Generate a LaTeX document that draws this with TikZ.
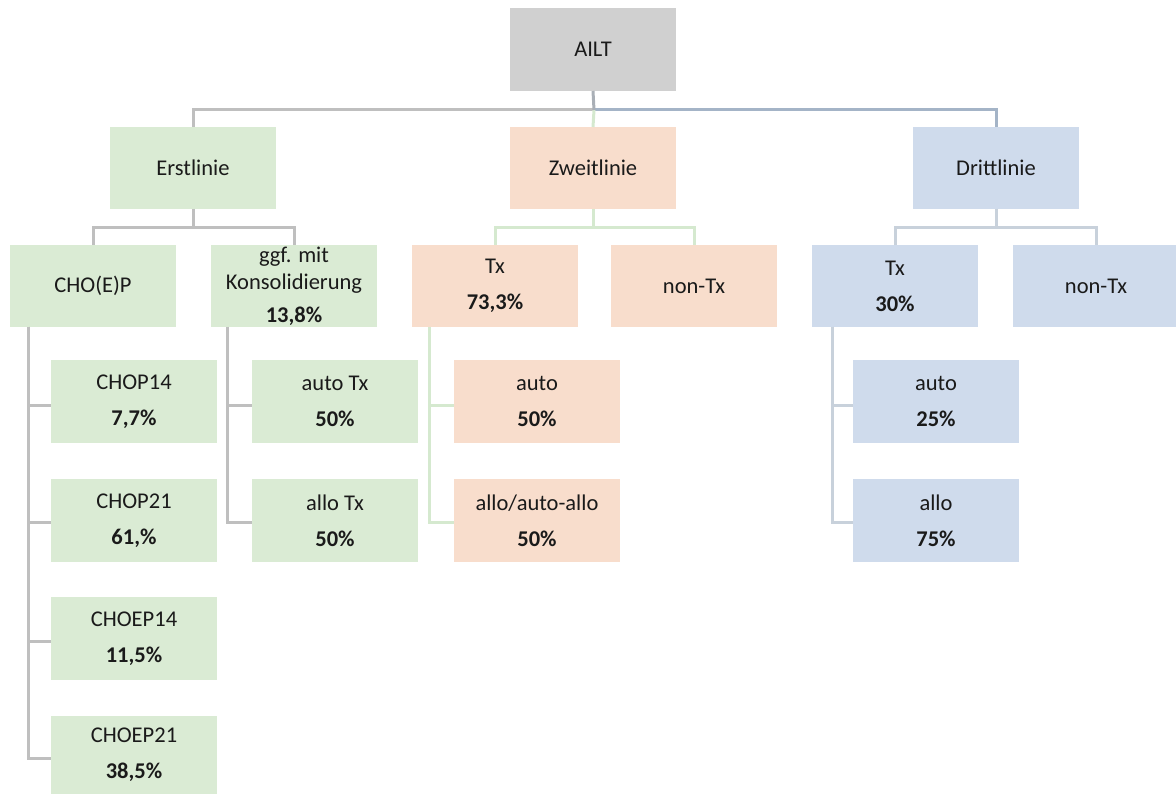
\documentclass[tikz,border=0pt]{standalone}
\usepackage{fontspec}
\setmainfont{Carlito}
\definecolor{cgreen}{HTML}{DAEBD4}
\definecolor{corange}{HTML}{F8DDCC}
\definecolor{cblue}{HTML}{CFDBEC}
\definecolor{cgrayfill}{HTML}{D0D0D0}
\definecolor{lgray}{HTML}{BFBFBF}
\definecolor{lbluedark}{HTML}{A4B4C7}
\definecolor{lgreen}{HTML}{D5E9CF}
\definecolor{lblue}{HTML}{C8D1DB}
\definecolor{lstub}{HTML}{A9AFB6}
\definecolor{ctext}{HTML}{1A1A1A}
\begin{document}
\begin{tikzpicture}[x=1pt,y=-1pt,
  box/.style={rectangle, inner sep=0pt, outer sep=0pt, minimum width=166pt, minimum height=82pt,
    anchor=north west, align=center, text=ctext, font=\fontsize{22.5}{27}\selectfont},
  gbox/.style={box, fill=cgreen},
  obox/.style={box, fill=corange},
  bbox/.style={box, fill=cblue},
  tall/.style={minimum height=83pt},
  conn/.style={line width=3pt, line join=miter},
]
\useasboundingbox (0,0) rectangle (1176,794);

% level 1
\node[box, fill=cgrayfill, tall] (ailt) at (510,8) {AILT};

% level 2
\node[gbox] (erst) at (110,127) {Erstlinie};
\node[obox] (zweit) at (510,127) {Zweitlinie};
\node[bbox] (dritt) at (913,127) {Drittlinie};

% level 3
\node[gbox] (cho) at (10,245) {CHO(E)P};
\node[gbox] (ggf) at (211,245) {ggf. mit\\Konsolidierung\\[6pt]\textbf{13,8\%}};
\node[obox] (txo) at (412,245) {Tx\\[9pt]\textbf{73,3\%}};
\node[obox] (ntxo) at (611,245) {non-Tx};
\node[bbox] (txb) at (812,245) {Tx\\[9pt]\textbf{30\%}};
\node[bbox] (ntxb) at (1013,245) {non-Tx};

% level 4
\node[gbox, tall] (chop14) at (51,360) {CHOP14\\[9pt]\textbf{7,7\%}};
\node[gbox, tall] (chop21) at (51,479) {CHOP21\\[9pt]\textbf{61,\%}};
\node[gbox, tall] (choep14) at (51,597) {CHOEP14\\[9pt]\textbf{11,5\%}};
\node[gbox, minimum height=78pt] (choep21) at (51,716) {CHOEP21\\[9pt]\textbf{38,5\%}};

\node[gbox, tall] (autotx) at (252,360) {auto Tx\\[9pt]\textbf{50\%}};
\node[gbox, tall] (allotx) at (252,479) {allo Tx\\[9pt]\textbf{50\%}};

\node[obox, tall] (autoo) at (454,360) {auto\\[9pt]\textbf{50\%}};
\node[obox, tall] (alloo) at (454,479) {allo/auto-allo\\[9pt]\textbf{50\%}};

\node[bbox, tall] (autob) at (853,360) {auto\\[9pt]\textbf{25\%}};
\node[bbox, tall] (allob) at (853,479) {allo\\[9pt]\textbf{75\%}};

% junction coordinates
\coordinate (top) at (594,110);
\coordinate (je) at (193,228);
\coordinate (jz) at (593,228);
\coordinate (jd) at (996,228);
\coordinate (vc) at (28,327);
\coordinate (vg) at (227,327);
\coordinate (vo) at (429,327);
\coordinate (vb) at (832,327);

% top connectors
\draw[conn, lgray] (erst.north) |- (top);
\draw[conn, lbluedark] (dritt.north) |- (top);
\draw[conn, lgreen] (zweit.north) -- (top);
\draw[conn, lstub] (ailt.south) -- (top);

% level 2 -> 3
\draw[conn, lgray] (erst.south) -- (je);
\draw[conn, lgray] (cho.north) |- (je) -| (ggf.north);
\draw[conn, lgreen] (zweit.south) -- (jz);
\draw[conn, lgreen] (txo.north) |- (jz) -| (ntxo.north);
\draw[conn, lblue] (dritt.south) -- (jd);
\draw[conn, lblue] (txb.north) |- (jd) -| (ntxb.north);

% level 3 -> 4
\draw[conn, lgray] (vc) |- ([yshift=-3pt]choep21.west);
\draw[conn, lgray] (vc) |- ([yshift=-4pt]chop14.west);
\draw[conn, lgray] (vc) |- ([yshift=-2pt]chop21.west);
\draw[conn, lgray] (vc) |- ([yshift=-3pt]choep14.west);

\draw[conn, lgray] (vg) |- ([yshift=-2pt]allotx.west);
\draw[conn, lgray] (vg) |- ([yshift=-4pt]autotx.west);

\draw[conn, lgreen] (vo) |- ([yshift=-2pt]alloo.west);
\draw[conn, lgreen] (vo) |- ([yshift=-4pt]autoo.west);

\draw[conn, lblue] (vb) |- ([yshift=-2pt]allob.west);
\draw[conn, lblue] (vb) |- ([yshift=-4pt]autob.west);
\end{tikzpicture}
\end{document}
